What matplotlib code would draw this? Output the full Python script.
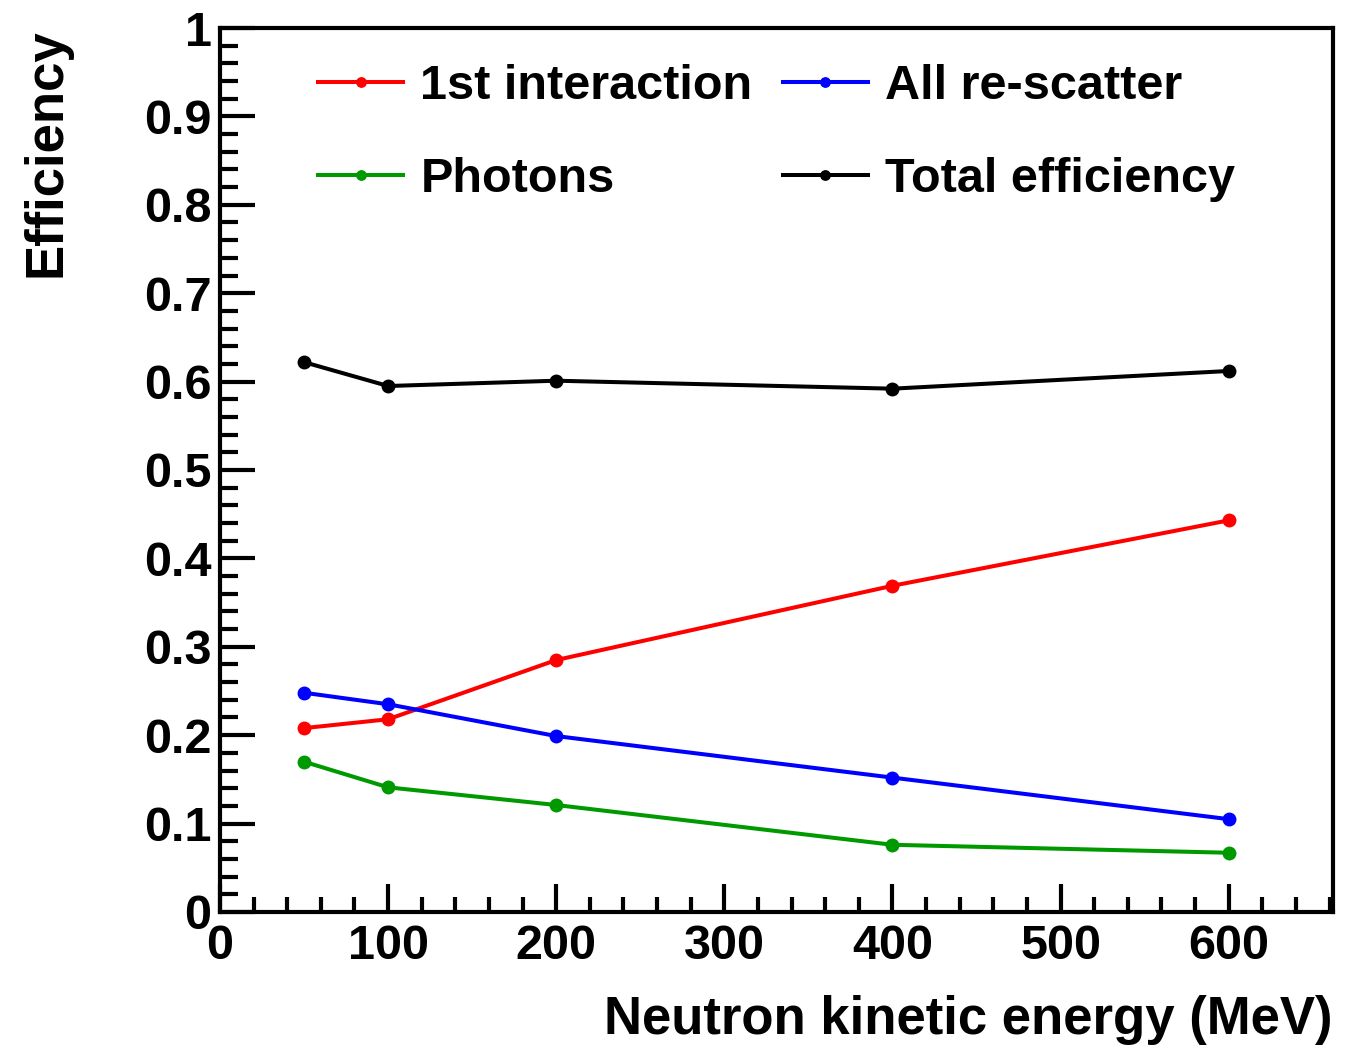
import matplotlib
matplotlib.use('Agg')
import matplotlib.pyplot as plt
from matplotlib.ticker import MultipleLocator

# Data
energy = [50, 100, 200, 400, 600]
first_interaction = [0.208, 0.218, 0.285, 0.369, 0.443]
all_rescatter = [0.248, 0.235, 0.199, 0.152, 0.105]
photons = [0.170, 0.141, 0.121, 0.076, 0.067]
total_eff = [0.622, 0.595, 0.601, 0.592, 0.612]

series = [
    ('1st interaction', first_interaction, '#ff0000'),
    ('Photons', photons, '#009900'),
    ('All re-scatter', all_rescatter, '#0000ff'),
    ('Total efficiency', total_eff, '#000000'),
]

plt.rcParams['font.family'] = ['Liberation Sans', 'DejaVu Sans']
plt.rcParams['font.weight'] = 'bold'

fig = plt.figure(figsize=(13.56, 10.45), dpi=100)
ax = fig.add_axes([0.1622, 0.1273, 0.8208, 0.8459])

for label, vals, col in series:
    ax.plot(energy, vals, color=col, lw=2.9, marker='o', ms=9, label=label)

ax.set_xlim(0, 662)
ax.set_ylim(0, 1)

ax.xaxis.set_major_locator(MultipleLocator(100))
ax.xaxis.set_minor_locator(MultipleLocator(20))
ax.yaxis.set_minor_locator(MultipleLocator(0.02))
ax.set_yticks([0, 0.1, 0.2, 0.3, 0.4, 0.5, 0.6, 0.7, 0.8, 0.9, 1.0])
ax.set_yticklabels(['0', '0.1', '0.2', '0.3', '0.4', '0.5', '0.6', '0.7', '0.8', '0.9', '1'])

for s in ax.spines.values():
    s.set_linewidth(3)
ax.tick_params(axis='both', which='major', labelsize=35, width=3, direction='in')
ax.tick_params(axis='y', which='major', length=25, pad=6)
ax.tick_params(axis='y', which='minor', length=13, width=3, direction='in')
ax.tick_params(axis='x', which='major', length=20, pad=9)
ax.tick_params(axis='x', which='minor', length=11, width=3, direction='in')
for t in ax.get_xticklabels() + ax.get_yticklabels():
    t.set_fontweight('bold')

ax.set_xlabel('Neutron kinetic energy (MeV)', fontsize=38, fontweight='bold', loc='right')
ax.xaxis.set_label_coords(1.0, -0.094)
ax.set_ylabel('Efficiency', fontsize=38, fontweight='bold', loc='top')
ax.yaxis.set_label_coords(-0.133, 1.0)

leg = ax.legend(loc='upper left', bbox_to_anchor=(0.049, 1.009), ncol=2, frameon=False,
                fontsize=35, handlelength=1.75, handletextpad=0.35, columnspacing=0.62,
                labelspacing=1.0, markerscale=0.75)
for t in leg.get_texts():
    t.set_fontweight('bold')

fig.savefig('out.png', dpi=100)
